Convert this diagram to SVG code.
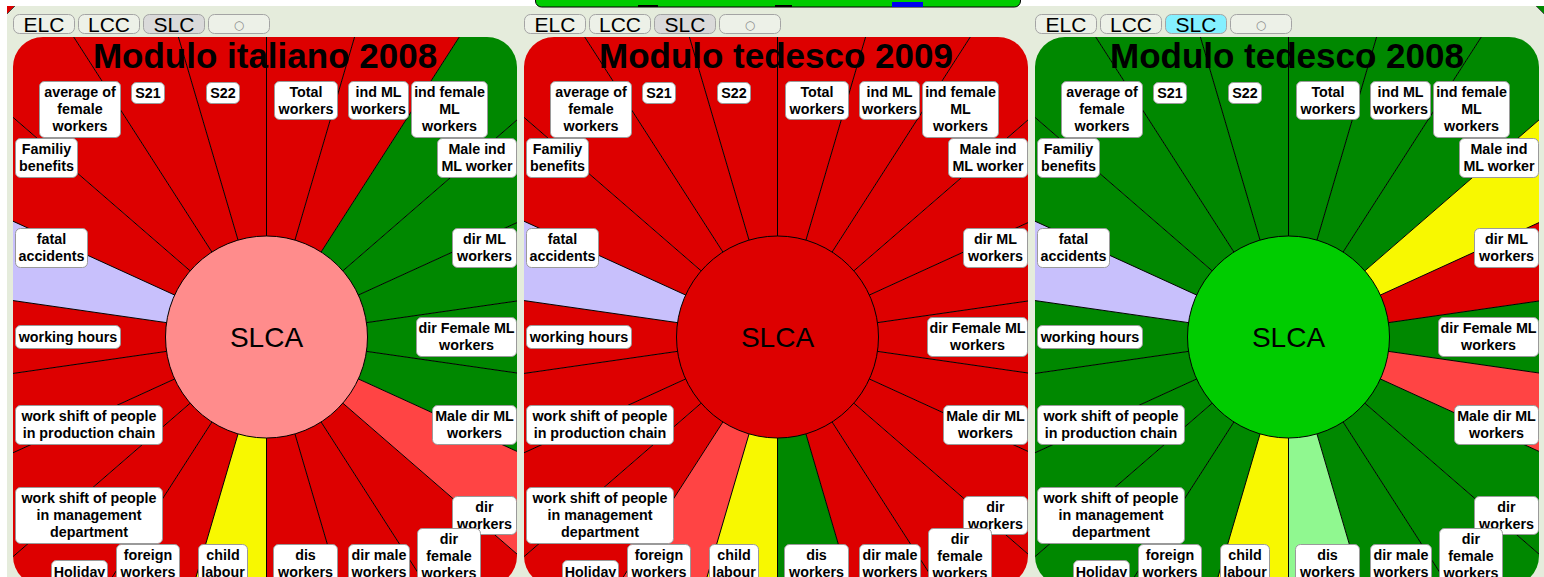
<svg xmlns="http://www.w3.org/2000/svg" width="1544" height="577" viewBox="0 0 1544 577">
<style>
.red{fill:#dd0000}.grn{fill:#008800}.lr{fill:#ff4444}.yel{fill:#f8f800}.lav{fill:#c8c0fc}.lg{fill:#90f890}
.ray{fill:none;stroke:#000;stroke-width:1}
.lbl rect{fill:#fff;stroke:#9a9a9a;stroke-width:1}
.lbl text{font-family:"Liberation Sans",Arial,sans-serif;font-weight:bold;font-size:14.3px;text-anchor:middle;fill:#000}
.title{font-family:"Liberation Sans",Arial,sans-serif;font-weight:bold;font-size:35px;text-anchor:middle;fill:#000}
.btn rect{fill:#edf1e8;stroke:#a4a4a4;stroke-width:1}
.btn text{font-family:"Liberation Sans",Arial,sans-serif;font-size:21px;text-anchor:middle;fill:#000}
.btn .on{fill:#dadada}.btn .cy{fill:#84f0ff}
.btn .dot{font-family:"DejaVu Sans",sans-serif;font-size:12px;fill:#8a8a8a}
.ctr circle{stroke:#000;stroke-width:1}
.ctr text{font-family:"Liberation Sans",Arial,sans-serif;font-size:28px;text-anchor:middle;fill:#000}
</style>
<defs>
<clipPath id="pclip"><rect x="13" y="37" width="504" height="549" rx="30"/></clipPath>
<path id="w0" d="M0 0L0 -700L197.2 -671.6Z"/>
<path id="w1" d="M0 0L197.2 -671.6L378.4 -588.9Z"/>
<path id="w2" d="M0 0L378.4 -588.9L529 -458.4Z"/>
<path id="w3" d="M0 0L529 -458.4L636.7 -290.8Z"/>
<path id="w4" d="M0 0L636.7 -290.8L692.9 -99.6Z"/>
<path id="w5" d="M0 0L692.9 -99.6L692.9 99.6Z"/>
<path id="w6" d="M0 0L692.9 99.6L636.7 290.8Z"/>
<path id="w7" d="M0 0L636.7 290.8L529 458.4Z"/>
<path id="w8" d="M0 0L529 458.4L378.4 588.9Z"/>
<path id="w9" d="M0 0L378.4 588.9L197.2 671.6Z"/>
<path id="w10" d="M0 0L197.2 671.6L0 700Z"/>
<path id="w11" d="M0 0L0 700L-197.2 671.6Z"/>
<path id="w12" d="M0 0L-197.2 671.6L-378.4 588.9Z"/>
<path id="w13" d="M0 0L-378.4 588.9L-529 458.4Z"/>
<path id="w14" d="M0 0L-529 458.4L-636.7 290.8Z"/>
<path id="w15" d="M0 0L-636.7 290.8L-692.9 99.6Z"/>
<path id="w16" d="M0 0L-692.9 99.6L-692.9 -99.6Z"/>
<path id="w17" d="M0 0L-692.9 -99.6L-636.7 -290.8Z"/>
<path id="w18" d="M0 0L-636.7 -290.8L-529 -458.4Z"/>
<path id="w19" d="M0 0L-529 -458.4L-378.4 -588.9Z"/>
<path id="w20" d="M0 0L-378.4 -588.9L-197.2 -671.6Z"/>
<path id="w21" d="M0 0L-197.2 -671.6L0 -700Z"/>
<path id="rays" d="M0 0V-700M0 0L197.2 -671.6M0 0L378.4 -588.9M0 0L529 -458.4M0 0L636.7 -290.8M0 0L692.9 -99.6M0 0L692.9 99.6M0 0L636.7 290.8M0 0L529 458.4M0 0L378.4 588.9M0 0L197.2 671.6M0 0V700M0 0L-197.2 671.6M0 0L-378.4 588.9M0 0L-529 458.4M0 0L-636.7 290.8M0 0L-692.9 99.6M0 0L-692.9 -99.6M0 0L-636.7 -290.8M0 0L-529 -458.4M0 0L-378.4 -588.9M0 0L-197.2 -671.6"/>
</defs>

<rect x="0" y="0" width="1544" height="577" fill="#ffffff"/>
<rect x="7" y="6" width="1537" height="571" fill="#e5ecdc"/>
<g id="edge-bits">
<polygon points="7,6 15,6 7,14" fill="#dd0000"/>
<line x1="15" y1="6" x2="7" y2="14" stroke="#444" stroke-width="1"/>
<polygon points="1536,6 1544,6 1544,14" fill="#008800"/>
<line x1="1536" y1="6" x2="1544" y2="14" stroke="#555" stroke-width="1"/>
<rect x="535.5" y="-20" width="485" height="27" rx="6" fill="#00cc00" stroke="#000" stroke-width="1"/>
<rect x="892" y="2" width="31" height="5" fill="#0000ee"/>
<rect x="638" y="5" width="20" height="2" fill="#000"/>
<rect x="775" y="5" width="17" height="2" fill="#000"/>
</g>

<!-- PANEL 1 -->
<g id="panel1">
<g clip-path="url(#pclip)">
<g id="p1-sectors" transform="translate(266.5 337)">
<use href="#w0" class="red"/><use href="#w1" class="red"/><use href="#w2" class="grn"/><use href="#w3" class="grn"/><use href="#w4" class="grn"/><use href="#w5" class="grn"/><use href="#w6" class="grn"/><use href="#w7" class="lr"/><use href="#w8" class="red"/><use href="#w9" class="red"/><use href="#w10" class="red"/><use href="#w11" class="yel"/><use href="#w12" class="red"/><use href="#w13" class="red"/><use href="#w14" class="red"/><use href="#w15" class="red"/><use href="#w16" class="red"/><use href="#w17" class="lav"/><use href="#w18" class="red"/><use href="#w19" class="red"/><use href="#w20" class="red"/><use href="#w21" class="red"/>
</g>
<g id="p1-connectors" transform="translate(266.5 337)"><use href="#rays" class="ray"/></g>
</g>
<text class="title" x="265" y="68">Modulo italiano 2008</text>
<g id="p1-center" class="ctr"><circle cx="266.5" cy="337" r="101" fill="#ff8c8c"/><text x="266.5" y="347">SLCA</text></g>
<g id="p1-buttons" class="btn">
<rect x="13.5" y="14.5" width="61" height="19" rx="6"/><text x="44" y="31.5">ELC</text>
<rect x="78.5" y="14.5" width="61" height="19" rx="6"/><text x="109" y="31.5">LCC</text>
<rect class="on" x="143.5" y="14.5" width="61" height="19" rx="6"/><text x="174" y="31.5">SLC</text>
<rect x="208.5" y="14.5" width="61" height="19" rx="6"/><text class="dot" x="239" y="28.5">○</text>
</g>
<g id="p1-n-avg" class="lbl"><rect x="39.5" y="81.5" width="81" height="56" rx="5"/><text><tspan x="80" y="97.4">average of</tspan><tspan x="80" y="114.2">female</tspan><tspan x="80" y="131">workers</tspan></text></g>
<g id="p1-n-s21" class="lbl"><rect x="131.5" y="82.5" width="33" height="21" rx="5"/><text x="148" y="97.7">S21</text></g>
<g id="p1-n-s22" class="lbl"><rect x="206.5" y="82.5" width="33" height="21" rx="5"/><text x="223" y="97.7">S22</text></g>
<g id="p1-n-total" class="lbl"><rect x="274.5" y="81.5" width="63" height="38" rx="5"/><text><tspan x="306" y="96.8">Total</tspan><tspan x="306" y="113.6">workers</tspan></text></g>
<g id="p1-n-indml" class="lbl"><rect x="348.5" y="81.5" width="60" height="38" rx="5"/><text><tspan x="378.5" y="96.8">ind ML</tspan><tspan x="378.5" y="113.6">workers</tspan></text></g>
<g id="p1-n-indfem" class="lbl"><rect x="411.5" y="81.5" width="76" height="56" rx="5"/><text><tspan x="449.5" y="97.4">ind female</tspan><tspan x="449.5" y="114.2">ML</tspan><tspan x="449.5" y="131">workers</tspan></text></g>
<g id="p1-n-family" class="lbl"><rect x="15.5" y="138.5" width="62" height="39" rx="5"/><text><tspan x="46.5" y="154.3">Familiy</tspan><tspan x="46.5" y="171.1">benefits</tspan></text></g>
<g id="p1-n-maleind" class="lbl"><rect x="437.5" y="138.5" width="79" height="39" rx="5"/><text><tspan x="477" y="154.3">Male ind</tspan><tspan x="477" y="171.1">ML worker</tspan></text></g>
<g id="p1-n-fatal" class="lbl"><rect x="15.5" y="228.5" width="72" height="39" rx="5"/><text><tspan x="51.5" y="244.3">fatal</tspan><tspan x="51.5" y="261.1">accidents</tspan></text></g>
<g id="p1-n-dirml" class="lbl"><rect x="452.5" y="228.5" width="64" height="39" rx="5"/><text><tspan x="484.5" y="244.3">dir ML</tspan><tspan x="484.5" y="261.1">workers</tspan></text></g>
<g id="p1-n-hours" class="lbl"><rect x="15.5" y="325.5" width="105" height="23" rx="5"/><text x="68" y="341.7">working hours</text></g>
<g id="p1-n-dirfemml" class="lbl"><rect x="416.5" y="317.5" width="100" height="39" rx="5"/><text><tspan x="466.5" y="333.3">dir Female ML</tspan><tspan x="466.5" y="350.1">workers</tspan></text></g>
<g id="p1-n-wsprod" class="lbl"><rect x="15.5" y="405.5" width="147" height="39" rx="5"/><text><tspan x="89" y="421.3">work shift of people</tspan><tspan x="89" y="438.1">in production chain</tspan></text></g>
<g id="p1-n-maledirml" class="lbl"><rect x="432.5" y="405.5" width="84" height="39" rx="5"/><text><tspan x="474.5" y="421.3">Male dir ML</tspan><tspan x="474.5" y="438.1">workers</tspan></text></g>
<g id="p1-n-wsmgmt" class="lbl"><rect x="15.5" y="487.5" width="147" height="56" rx="5"/><text><tspan x="89" y="503.4">work shift of people</tspan><tspan x="89" y="520.2">in management</tspan><tspan x="89" y="537">department</tspan></text></g>
<g id="p1-n-dirw" class="lbl"><rect x="452.5" y="496.5" width="64" height="38" rx="5"/><text><tspan x="484.5" y="511.8">dir</tspan><tspan x="484.5" y="528.6">workers</tspan></text></g>
<g id="p1-n-dirfemw" class="lbl"><rect x="417.5" y="528.5" width="63" height="56" rx="5"/><text><tspan x="449" y="544.4">dir</tspan><tspan x="449" y="561.2">female</tspan><tspan x="449" y="578">workers</tspan></text></g>
<g id="p1-n-holiday" class="lbl"><rect x="51.5" y="560.5" width="56" height="23" rx="5"/><text x="79.5" y="576.7">Holiday</text></g>
<g id="p1-n-foreign" class="lbl"><rect x="116.5" y="544.5" width="63" height="39" rx="5"/><text><tspan x="148" y="560.3">foreign</tspan><tspan x="148" y="577.1">workers</tspan></text></g>
<g id="p1-n-child" class="lbl"><rect x="198.5" y="544.5" width="49" height="39" rx="5"/><text><tspan x="223" y="560.3">child</tspan><tspan x="223" y="577.1">labour</tspan></text></g>
<g id="p1-n-dis" class="lbl"><rect x="273.5" y="544.5" width="64" height="39" rx="5"/><text><tspan x="305.5" y="560.3">dis</tspan><tspan x="305.5" y="577.1">workers</tspan></text></g>
<g id="p1-n-dirmale" class="lbl"><rect x="348.5" y="544.5" width="61" height="39" rx="5"/><text><tspan x="379" y="560.3">dir male</tspan><tspan x="379" y="577.1">workers</tspan></text></g>
</g>

<!-- PANEL 2 -->
<g id="panel2" transform="translate(511 0)">
<g clip-path="url(#pclip)">
<g id="p2-sectors" transform="translate(266.5 337)">
<use href="#w0" class="red"/><use href="#w1" class="red"/><use href="#w2" class="red"/><use href="#w3" class="red"/><use href="#w4" class="red"/><use href="#w5" class="red"/><use href="#w6" class="red"/><use href="#w7" class="red"/><use href="#w8" class="red"/><use href="#w9" class="red"/><use href="#w10" class="grn"/><use href="#w11" class="yel"/><use href="#w12" class="lr"/><use href="#w13" class="red"/><use href="#w14" class="red"/><use href="#w15" class="red"/><use href="#w16" class="red"/><use href="#w17" class="lav"/><use href="#w18" class="red"/><use href="#w19" class="red"/><use href="#w20" class="red"/><use href="#w21" class="red"/>
</g>
<g id="p2-connectors" transform="translate(266.5 337)"><use href="#rays" class="ray"/></g>
</g>
<text class="title" x="265" y="68">Modulo tedesco 2009</text>
<g id="p2-center" class="ctr"><circle cx="266.5" cy="337" r="101" fill="#dd0000"/><text x="266.5" y="347">SLCA</text></g>
<g id="p2-buttons" class="btn">
<rect x="13.5" y="14.5" width="61" height="19" rx="6"/><text x="44" y="31.5">ELC</text>
<rect x="78.5" y="14.5" width="61" height="19" rx="6"/><text x="109" y="31.5">LCC</text>
<rect class="on" x="143.5" y="14.5" width="61" height="19" rx="6"/><text x="174" y="31.5">SLC</text>
<rect x="208.5" y="14.5" width="61" height="19" rx="6"/><text class="dot" x="239" y="28.5">○</text>
</g>
<g id="p2-n-avg" class="lbl"><rect x="39.5" y="81.5" width="81" height="56" rx="5"/><text><tspan x="80" y="97.4">average of</tspan><tspan x="80" y="114.2">female</tspan><tspan x="80" y="131">workers</tspan></text></g>
<g id="p2-n-s21" class="lbl"><rect x="131.5" y="82.5" width="33" height="21" rx="5"/><text x="148" y="97.7">S21</text></g>
<g id="p2-n-s22" class="lbl"><rect x="206.5" y="82.5" width="33" height="21" rx="5"/><text x="223" y="97.7">S22</text></g>
<g id="p2-n-total" class="lbl"><rect x="274.5" y="81.5" width="63" height="38" rx="5"/><text><tspan x="306" y="96.8">Total</tspan><tspan x="306" y="113.6">workers</tspan></text></g>
<g id="p2-n-indml" class="lbl"><rect x="348.5" y="81.5" width="60" height="38" rx="5"/><text><tspan x="378.5" y="96.8">ind ML</tspan><tspan x="378.5" y="113.6">workers</tspan></text></g>
<g id="p2-n-indfem" class="lbl"><rect x="411.5" y="81.5" width="76" height="56" rx="5"/><text><tspan x="449.5" y="97.4">ind female</tspan><tspan x="449.5" y="114.2">ML</tspan><tspan x="449.5" y="131">workers</tspan></text></g>
<g id="p2-n-family" class="lbl"><rect x="15.5" y="138.5" width="62" height="39" rx="5"/><text><tspan x="46.5" y="154.3">Familiy</tspan><tspan x="46.5" y="171.1">benefits</tspan></text></g>
<g id="p2-n-maleind" class="lbl"><rect x="437.5" y="138.5" width="79" height="39" rx="5"/><text><tspan x="477" y="154.3">Male ind</tspan><tspan x="477" y="171.1">ML worker</tspan></text></g>
<g id="p2-n-fatal" class="lbl"><rect x="15.5" y="228.5" width="72" height="39" rx="5"/><text><tspan x="51.5" y="244.3">fatal</tspan><tspan x="51.5" y="261.1">accidents</tspan></text></g>
<g id="p2-n-dirml" class="lbl"><rect x="452.5" y="228.5" width="64" height="39" rx="5"/><text><tspan x="484.5" y="244.3">dir ML</tspan><tspan x="484.5" y="261.1">workers</tspan></text></g>
<g id="p2-n-hours" class="lbl"><rect x="15.5" y="325.5" width="105" height="23" rx="5"/><text x="68" y="341.7">working hours</text></g>
<g id="p2-n-dirfemml" class="lbl"><rect x="416.5" y="317.5" width="100" height="39" rx="5"/><text><tspan x="466.5" y="333.3">dir Female ML</tspan><tspan x="466.5" y="350.1">workers</tspan></text></g>
<g id="p2-n-wsprod" class="lbl"><rect x="15.5" y="405.5" width="147" height="39" rx="5"/><text><tspan x="89" y="421.3">work shift of people</tspan><tspan x="89" y="438.1">in production chain</tspan></text></g>
<g id="p2-n-maledirml" class="lbl"><rect x="432.5" y="405.5" width="84" height="39" rx="5"/><text><tspan x="474.5" y="421.3">Male dir ML</tspan><tspan x="474.5" y="438.1">workers</tspan></text></g>
<g id="p2-n-wsmgmt" class="lbl"><rect x="15.5" y="487.5" width="147" height="56" rx="5"/><text><tspan x="89" y="503.4">work shift of people</tspan><tspan x="89" y="520.2">in management</tspan><tspan x="89" y="537">department</tspan></text></g>
<g id="p2-n-dirw" class="lbl"><rect x="452.5" y="496.5" width="64" height="38" rx="5"/><text><tspan x="484.5" y="511.8">dir</tspan><tspan x="484.5" y="528.6">workers</tspan></text></g>
<g id="p2-n-dirfemw" class="lbl"><rect x="417.5" y="528.5" width="63" height="56" rx="5"/><text><tspan x="449" y="544.4">dir</tspan><tspan x="449" y="561.2">female</tspan><tspan x="449" y="578">workers</tspan></text></g>
<g id="p2-n-holiday" class="lbl"><rect x="51.5" y="560.5" width="56" height="23" rx="5"/><text x="79.5" y="576.7">Holiday</text></g>
<g id="p2-n-foreign" class="lbl"><rect x="116.5" y="544.5" width="63" height="39" rx="5"/><text><tspan x="148" y="560.3">foreign</tspan><tspan x="148" y="577.1">workers</tspan></text></g>
<g id="p2-n-child" class="lbl"><rect x="198.5" y="544.5" width="49" height="39" rx="5"/><text><tspan x="223" y="560.3">child</tspan><tspan x="223" y="577.1">labour</tspan></text></g>
<g id="p2-n-dis" class="lbl"><rect x="273.5" y="544.5" width="64" height="39" rx="5"/><text><tspan x="305.5" y="560.3">dis</tspan><tspan x="305.5" y="577.1">workers</tspan></text></g>
<g id="p2-n-dirmale" class="lbl"><rect x="348.5" y="544.5" width="61" height="39" rx="5"/><text><tspan x="379" y="560.3">dir male</tspan><tspan x="379" y="577.1">workers</tspan></text></g>
</g>

<!-- PANEL 3 -->
<g id="panel3" transform="translate(1022 0)">
<g clip-path="url(#pclip)">
<g id="p3-sectors" transform="translate(266.5 337)">
<use href="#w0" class="grn"/><use href="#w1" class="grn"/><use href="#w2" class="grn"/><use href="#w3" class="yel"/><use href="#w4" class="red"/><use href="#w5" class="grn"/><use href="#w6" class="lr"/><use href="#w7" class="grn"/><use href="#w8" class="grn"/><use href="#w9" class="grn"/><use href="#w10" class="lg"/><use href="#w11" class="yel"/><use href="#w12" class="grn"/><use href="#w13" class="grn"/><use href="#w14" class="grn"/><use href="#w15" class="grn"/><use href="#w16" class="grn"/><use href="#w17" class="lav"/><use href="#w18" class="grn"/><use href="#w19" class="grn"/><use href="#w20" class="grn"/><use href="#w21" class="grn"/>
</g>
<g id="p3-connectors" transform="translate(266.5 337)"><use href="#rays" class="ray"/></g>
</g>
<text class="title" x="265" y="68">Modulo tedesco 2008</text>
<g id="p3-center" class="ctr"><circle cx="266.5" cy="337" r="101" fill="#00cc00"/><text x="266.5" y="347">SLCA</text></g>
<g id="p3-buttons" class="btn">
<rect x="13.5" y="14.5" width="61" height="19" rx="6"/><text x="44" y="31.5">ELC</text>
<rect x="78.5" y="14.5" width="61" height="19" rx="6"/><text x="109" y="31.5">LCC</text>
<rect class="cy" x="143.5" y="14.5" width="61" height="19" rx="6"/><text x="174" y="31.5">SLC</text>
<rect x="208.5" y="14.5" width="61" height="19" rx="6"/><text class="dot" x="239" y="28.5">○</text>
</g>
<g id="p3-n-avg" class="lbl"><rect x="39.5" y="81.5" width="81" height="56" rx="5"/><text><tspan x="80" y="97.4">average of</tspan><tspan x="80" y="114.2">female</tspan><tspan x="80" y="131">workers</tspan></text></g>
<g id="p3-n-s21" class="lbl"><rect x="131.5" y="82.5" width="33" height="21" rx="5"/><text x="148" y="97.7">S21</text></g>
<g id="p3-n-s22" class="lbl"><rect x="206.5" y="82.5" width="33" height="21" rx="5"/><text x="223" y="97.7">S22</text></g>
<g id="p3-n-total" class="lbl"><rect x="274.5" y="81.5" width="63" height="38" rx="5"/><text><tspan x="306" y="96.8">Total</tspan><tspan x="306" y="113.6">workers</tspan></text></g>
<g id="p3-n-indml" class="lbl"><rect x="348.5" y="81.5" width="60" height="38" rx="5"/><text><tspan x="378.5" y="96.8">ind ML</tspan><tspan x="378.5" y="113.6">workers</tspan></text></g>
<g id="p3-n-indfem" class="lbl"><rect x="411.5" y="81.5" width="76" height="56" rx="5"/><text><tspan x="449.5" y="97.4">ind female</tspan><tspan x="449.5" y="114.2">ML</tspan><tspan x="449.5" y="131">workers</tspan></text></g>
<g id="p3-n-family" class="lbl"><rect x="15.5" y="138.5" width="62" height="39" rx="5"/><text><tspan x="46.5" y="154.3">Familiy</tspan><tspan x="46.5" y="171.1">benefits</tspan></text></g>
<g id="p3-n-maleind" class="lbl"><rect x="437.5" y="138.5" width="79" height="39" rx="5"/><text><tspan x="477" y="154.3">Male ind</tspan><tspan x="477" y="171.1">ML worker</tspan></text></g>
<g id="p3-n-fatal" class="lbl"><rect x="15.5" y="228.5" width="72" height="39" rx="5"/><text><tspan x="51.5" y="244.3">fatal</tspan><tspan x="51.5" y="261.1">accidents</tspan></text></g>
<g id="p3-n-dirml" class="lbl"><rect x="452.5" y="228.5" width="64" height="39" rx="5"/><text><tspan x="484.5" y="244.3">dir ML</tspan><tspan x="484.5" y="261.1">workers</tspan></text></g>
<g id="p3-n-hours" class="lbl"><rect x="15.5" y="325.5" width="105" height="23" rx="5"/><text x="68" y="341.7">working hours</text></g>
<g id="p3-n-dirfemml" class="lbl"><rect x="416.5" y="317.5" width="100" height="39" rx="5"/><text><tspan x="466.5" y="333.3">dir Female ML</tspan><tspan x="466.5" y="350.1">workers</tspan></text></g>
<g id="p3-n-wsprod" class="lbl"><rect x="15.5" y="405.5" width="147" height="39" rx="5"/><text><tspan x="89" y="421.3">work shift of people</tspan><tspan x="89" y="438.1">in production chain</tspan></text></g>
<g id="p3-n-maledirml" class="lbl"><rect x="432.5" y="405.5" width="84" height="39" rx="5"/><text><tspan x="474.5" y="421.3">Male dir ML</tspan><tspan x="474.5" y="438.1">workers</tspan></text></g>
<g id="p3-n-wsmgmt" class="lbl"><rect x="15.5" y="487.5" width="147" height="56" rx="5"/><text><tspan x="89" y="503.4">work shift of people</tspan><tspan x="89" y="520.2">in management</tspan><tspan x="89" y="537">department</tspan></text></g>
<g id="p3-n-dirw" class="lbl"><rect x="452.5" y="496.5" width="64" height="38" rx="5"/><text><tspan x="484.5" y="511.8">dir</tspan><tspan x="484.5" y="528.6">workers</tspan></text></g>
<g id="p3-n-dirfemw" class="lbl"><rect x="417.5" y="528.5" width="63" height="56" rx="5"/><text><tspan x="449" y="544.4">dir</tspan><tspan x="449" y="561.2">female</tspan><tspan x="449" y="578">workers</tspan></text></g>
<g id="p3-n-holiday" class="lbl"><rect x="51.5" y="560.5" width="56" height="23" rx="5"/><text x="79.5" y="576.7">Holiday</text></g>
<g id="p3-n-foreign" class="lbl"><rect x="116.5" y="544.5" width="63" height="39" rx="5"/><text><tspan x="148" y="560.3">foreign</tspan><tspan x="148" y="577.1">workers</tspan></text></g>
<g id="p3-n-child" class="lbl"><rect x="198.5" y="544.5" width="49" height="39" rx="5"/><text><tspan x="223" y="560.3">child</tspan><tspan x="223" y="577.1">labour</tspan></text></g>
<g id="p3-n-dis" class="lbl"><rect x="273.5" y="544.5" width="64" height="39" rx="5"/><text><tspan x="305.5" y="560.3">dis</tspan><tspan x="305.5" y="577.1">workers</tspan></text></g>
<g id="p3-n-dirmale" class="lbl"><rect x="348.5" y="544.5" width="61" height="39" rx="5"/><text><tspan x="379" y="560.3">dir male</tspan><tspan x="379" y="577.1">workers</tspan></text></g>
</g>
</svg>
